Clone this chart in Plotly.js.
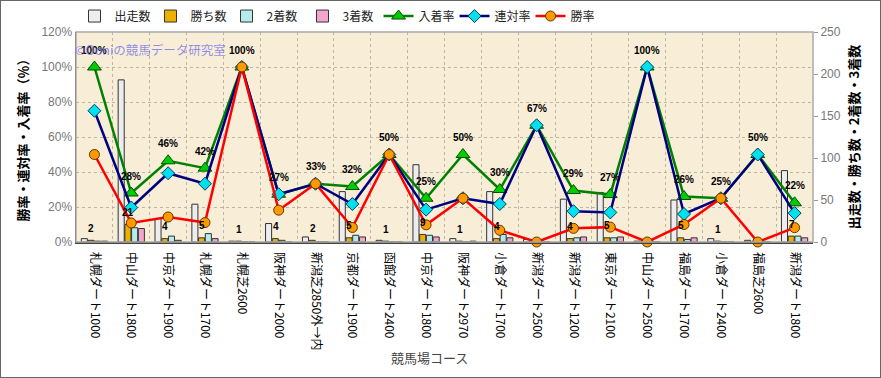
<!DOCTYPE html>
<html><head><meta charset="utf-8">
<script src="https://cdn.plot.ly/plotly-3.0.1.min.js"></script>
<style>
html,body{margin:0;padding:0;background:#fff;}
#wrap{position:relative;width:881px;height:378px;}
#chart{width:881px;height:378px;}
#frame{position:absolute;left:0;top:0;width:881px;height:378px;box-sizing:border-box;border:1px solid #666;pointer-events:none;}
</style></head>
<body><div id="wrap"><div id="chart"></div><div id="frame"></div></div>
<script>
const courses = ['札幌ダート1000','中山ダート1800','中京ダート1900','札幌ダート1700','札幌芝2600','阪神ダート2000','新潟芝2850外→内','京都ダート1900','函館ダート2400','中京ダート1800','阪神ダート2970','小倉ダート1700','新潟ダート2500','新潟ダート1200','東京ダート2100','中山ダート2500','福島ダート1700','小倉ダート2400','福島芝2600','新潟ダート1800'];
const runs   = [4,193,28,45,1,22,6,60,2,92,4,60,3,51,59,1,50,4,2,85];
const wins   = [2,21,4,5,1,4,2,5,1,9,1,4,0,4,5,0,5,1,0,7];
const second = [1,17,7,10,0,2,0,8,0,8,0,9,2,5,5,1,3,0,1,7];
const third  = [1,16,2,4,0,0,0,6,0,6,1,5,0,6,6,0,5,0,0,5];
const placeRate = [100,28.0,46.4,42.2,100,27.3,33.3,31.7,50,25.0,50,30.0,66.7,29.4,27.1,100,26.0,25,50,22.4];
const quinRate  = [75,19.7,39.3,33.3,100,27.3,33.3,21.7,50,18.5,25,21.7,66.7,17.6,16.9,100,16.0,25,50,16.5];
const winRate   = [50,10.9,14.3,11.1,100,18.2,33.3,8.3,50,9.8,25,6.7,0,7.8,8.5,0,10.0,25,0,8.2];

const jp = '"Noto Sans CJK JP", "Noto Sans", sans-serif';
const lat = '"Liberation Sans", Arial, sans-serif';

function barTrace(name, vals, color){
  return {type:'bar', name:name, x:courses, y:vals, yaxis:'y',
    marker:{color:color, line:{color:'#333', width:1}}, hoverinfo:'skip'};
}
const traces = [
  barTrace('出走数', runs, '#ededed'),
  barTrace('勝ち数', wins, '#eeb000'),
  barTrace('2着数', second, '#b4ecec'),
  barTrace('3着数', third, '#f2a6cf'),
  {type:'scatter', mode:'lines+markers', name:'入着率', x:courses, y:placeRate, yaxis:'y2', cliponaxis:false,
   line:{color:'#008000', width:2.5}, marker:{symbol:'triangle-up', size:12, color:'#00cc00', line:{color:'#005000', width:1}}},
  {type:'scatter', mode:'lines+markers', name:'連対率', x:courses, y:quinRate, yaxis:'y2', cliponaxis:false,
   line:{color:'#000080', width:2.5}, marker:{symbol:'diamond', size:10, color:'#00e0ee', line:{color:'#004060', width:1}}},
  {type:'scatter', mode:'lines+markers', name:'勝率', x:courses, y:winRate, yaxis:'y2', cliponaxis:false,
   line:{color:'#ff0000', width:2.5}, marker:{symbol:'circle', size:10, color:'#ff9900', line:{color:'#663300', width:1}}}
];

const annotations = [];
courses.forEach((c,i)=>{
  annotations.push({x:c, y:placeRate[i], xref:'x', yref:'y2', text:Math.round(placeRate[i])+'%',
    showarrow:false, yshift:17, font:{family:lat, size:10, color:'#000', weight:'bold'}});
  if (wins[i] > 0) annotations.push({x:c, y:wins[i], xref:'x', yref:'y', text:String(wins[i]),
    showarrow:false, xshift:-3, yshift:12, font:{family:lat, size:10, color:'#000', weight:'bold'}});
});
annotations.push({xref:'paper', yref:'paper', x:-0.004, y:0.915, xanchor:'left', yanchor:'middle',
  text:'©Ooniの競馬データ研究室', showarrow:false, font:{family:jp, size:12.5, color:'rgba(110,110,240,0.75)'}});
annotations.push({xref:'paper', yref:'paper', x:0.48, y:-0.548, xanchor:'center', yanchor:'middle',
  text:'競馬場コース', showarrow:false, font:{family:jp, size:13, color:'#444'}});

const layout = {
  width:881, height:378,
  margin:{l:76, r:68, t:32, b:136, pad:0, autoexpand:false},
  paper_bgcolor:'rgba(0,0,0,0)', plot_bgcolor:'#f8edd6',
  barmode:'group', bargap:0.27, bargroupgap:0.1,
  showlegend:true,
  legend:{orientation:'h', x:-0.002, xanchor:'left', y:1.076, yanchor:'middle',
    entrywidth:31, entrywidthmode:'pixels',
    font:{family:jp, size:12, color:'#222'}, bgcolor:'rgba(0,0,0,0)', traceorder:'normal'},
  xaxis:{type:'category', range:[-0.5, 19.5], autorange:false, tickangle:90, tickfont:{family:jp, size:12, color:'#000'},
    ticklabelstandoff:6,
    showline:true, linecolor:'#444', linewidth:1.5, tickson:'boundaries', ticks:'',
    showgrid:true, gridcolor:'#bdb5a3', griddash:'dot', gridwidth:1},
  yaxis:{side:'right', range:[0,250], dtick:50, showgrid:false, zeroline:false,
    tickfont:{family:lat, size:12, color:'#777'}, ticks:'outside', ticklen:4, tickcolor:'#999',
    title:{text:'出走数・勝ち数・2着数・3着数', font:{family:jp, size:13, color:'#000', weight:'bold'}, standoff:10}},
  yaxis2:{overlaying:'y', side:'left', range:[0,120], dtick:20, ticksuffix:'%',
    showgrid:true, gridcolor:'#bdb5a3', griddash:'dot', gridwidth:1, zeroline:false,
    showline:true, linecolor:'#444', linewidth:1.5,
    tickfont:{family:lat, size:12, color:'#777'},
    title:{text:'勝率・連対率・入着率（％）', font:{family:jp, size:13, color:'#000', weight:'bold'}, standoff:10}},
  shapes:[{type:'rect', xref:'paper', yref:'paper', x0:0, x1:1, y0:0, y1:1, line:{color:'#aaa', width:1.5}, layer:'above'}],
  annotations:annotations
};
Plotly.newPlot('chart', traces, layout, {displayModeBar:false, staticPlot:true});
</script></body></html>
